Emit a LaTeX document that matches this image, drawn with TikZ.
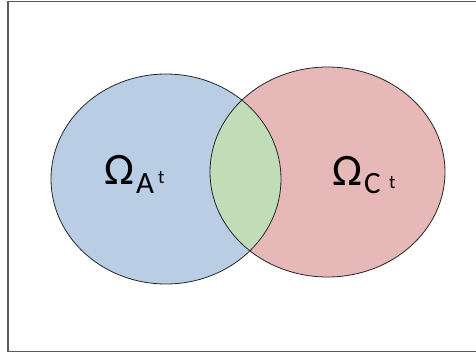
\documentclass[tikz,border=0pt]{standalone}
\usepackage{fontspec}
\setmainfont{Carlito}
\definecolor{setblue}{RGB}{185,205,229}
\definecolor{setpink}{RGB}{230,185,184}
\definecolor{setgreen}{RGB}{192,221,184}
\definecolor{framegray}{RGB}{90,90,90}
\begin{document}
\begin{tikzpicture}[x=1pt,y=-1pt,
  setline/.style={draw=black!85,line width=0.8pt},
  framestyle/.style={draw=framegray,line width=1.4pt},
  omegatext/.style={inner sep=0pt,anchor=base west,font=\fontsize{45}{50}\selectfont},
  subtext/.style={inner sep=0pt,anchor=base west,font=\fontsize{31}{34}\selectfont},
  suptext/.style={inner sep=0pt,anchor=base west,font=\fontsize{19}{22}\selectfont}]
\useasboundingbox (0,0) rectangle (476,354);
% frame
\coordinate (ftr) at (480,1.5);
\coordinate (ftl) at (8,1.5);
\coordinate (fbl) at (8,351.5);
\coordinate (fbr) at (480,351.5);
\draw[framestyle] (ftr) -- (ftl) -- (fbl) -- (fbr);
% fills
\fill[setblue] (166,179) ellipse [x radius=115, y radius=105];
\fill[setpink] (327.5,172) ellipse [x radius=117.5, y radius=105];
\begin{scope}
  \clip (166,179) ellipse [x radius=115, y radius=105];
  \fill[setgreen] (327.5,172) ellipse [x radius=117.5, y radius=105];
\end{scope}
% outlines
\draw[setline] (166,179) ellipse [x radius=115, y radius=105];
\draw[setline] (327.5,172) ellipse [x radius=117.5, y radius=105];
% labels
\node[omegatext] (oa) at (104,184) {Ω};
\node[subtext] (sa) at (136,193) {A};
\node[suptext] (ta) at (158,183) {t};
\node[omegatext] (oc) at (332,185) {Ω};
\node[subtext] (sc) at (364,193) {C};
\node[suptext] (tc) at (389,188) {t};
\end{tikzpicture}
\end{document}
